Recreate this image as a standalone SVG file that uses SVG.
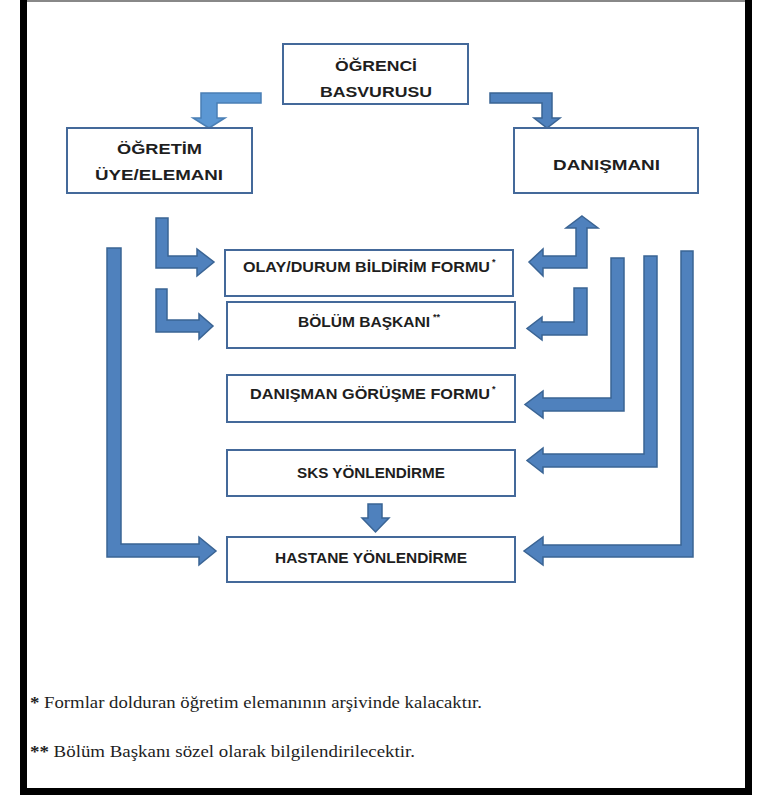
<svg xmlns="http://www.w3.org/2000/svg" width="759" height="796" viewBox="0 0 759 796">
<style>
.box{fill:#ffffff;stroke:#44699a;stroke-width:2}
.lbl{font-family:"Liberation Sans",Arial,sans-serif;font-weight:bold;font-size:15.5px;fill:#1e1e1e;text-anchor:middle}
.sup{font-family:"Liberation Sans",Arial,sans-serif;font-weight:bold;font-size:9px;fill:#1e1e1e}
.arr{fill:#4f81bd;stroke:#3a6494;stroke-width:1.5;stroke-linejoin:miter}
.arrl{fill:#5b97d3;stroke:#4a7fb5;stroke-width:1.5}
.note{font-family:"Liberation Serif","Times New Roman",serif;font-size:16px;fill:#1e1e1e}
</style>
<rect x="0" y="0" width="759" height="796" fill="#ffffff"/>
<rect x="23.5" y="-3" width="725" height="794.5" fill="none" stroke="#000000" stroke-width="7"/>
<line x1="27" y1="1" x2="745" y2="1" stroke="#888888" stroke-width="2"/>

<g id="connectors">
  <polygon class="arrl" points="261,93 261,103 217,103 217,118 225,118 209,128 193,118 201,118 201,93"/>
  <polygon class="arr" points="490,93 552,93 552,118 560,118 547,128 534,118 542,118 542,103 490,103"/>
  <polygon class="arr" points="156,218 168,218 168,256 197,256 197,249 214,262 197,276 197,268 156,268"/>
  <polygon class="arr" points="156,289 167,289 167,320 199,320 199,314 213,326 199,339 199,332 156,332"/>
  <polygon class="arr" points="107,248 121,248 121,544 199,544 199,537 216,551 199,565 199,557 107,557"/>
  <polygon class="arr" points="582,216 598,228 587,228 587,268 543,268 543,276 529,262 543,249 543,256 576,256 576,228 566,228"/>
  <polygon class="arr" points="574,288 587,288 587,335 542,335 542,340 527,328.5 542,317 542,322 574,322"/>
  <polygon class="arr" points="611,258 624,258 624,411 543,411 543,418 525,404.5 543,391 543,398 611,398"/>
  <polygon class="arr" points="644,256 657,256 657,467 543,467 543,473 527,460.5 543,448 543,454 644,454"/>
  <polygon class="arr" points="681,251 693,251 693,557 543,557 543,565 524,551 543,537 543,545 681,545"/>
  <polygon class="arr" points="368,504 382,504 382,518 389,518 375.5,532 362,518 368,518"/>
</g>

<g id="ogrenci">
  <rect class="box" x="283" y="44" width="185" height="60"/>
  <text class="lbl" x="376" y="71" textLength="82" lengthAdjust="spacingAndGlyphs">ÖĞRENCİ</text>
  <text class="lbl" x="376" y="97" textLength="112" lengthAdjust="spacingAndGlyphs">BASVURUSU</text>
</g>
<g id="ogretim">
  <rect class="box" x="67" y="128" width="185" height="65"/>
  <text class="lbl" x="159.5" y="154" textLength="85" lengthAdjust="spacingAndGlyphs">ÖĞRETİM</text>
  <text class="lbl" x="159" y="180" textLength="128" lengthAdjust="spacingAndGlyphs">ÜYE/ELEMANI</text>
</g>
<g id="danismani">
  <rect class="box" x="514" y="128" width="184" height="65"/>
  <text class="lbl" x="606.5" y="170" textLength="107" lengthAdjust="spacingAndGlyphs">DANIŞMANI</text>
</g>
<g id="olay">
  <rect class="box" x="225" y="250" width="288" height="46"/>
  <text class="lbl" x="366.5" y="272" textLength="247" lengthAdjust="spacingAndGlyphs">OLAY/DURUM BİLDİRİM FORMU</text>
  <text class="sup" x="492" y="265">*</text>
</g>
<g id="bolum">
  <rect class="box" x="227" y="302" width="288" height="46"/>
  <text class="lbl" x="364" y="327" textLength="132" lengthAdjust="spacingAndGlyphs">BÖLÜM BAŞKANI</text>
  <text class="sup" x="433" y="320">**</text>
</g>
<g id="gorusme">
  <rect class="box" x="227" y="375" width="288" height="47"/>
  <text class="lbl" x="370" y="399" textLength="240" lengthAdjust="spacingAndGlyphs">DANIŞMAN GÖRÜŞME FORMU</text>
  <text class="sup" x="492" y="392">*</text>
</g>
<g id="sks">
  <rect class="box" x="227" y="450" width="288" height="46"/>
  <text class="lbl" x="371" y="478" textLength="148" lengthAdjust="spacingAndGlyphs">SKS YÖNLENDİRME</text>
</g>
<g id="hastane">
  <rect class="box" x="227" y="537" width="288" height="45"/>
  <text class="lbl" x="371" y="563" textLength="192" lengthAdjust="spacingAndGlyphs">HASTANE YÖNLENDİRME</text>
</g>

<g id="notes">
  <text class="note" x="30" y="708" textLength="452" lengthAdjust="spacingAndGlyphs"><tspan font-weight="bold">*</tspan> Formlar dolduran öğretim elemanının arşivinde kalacaktır.</text>
  <text class="note" x="30" y="757" textLength="385" lengthAdjust="spacingAndGlyphs"><tspan font-weight="bold">**</tspan> Bölüm Başkanı sözel olarak bilgilendirilecektir.</text>
</g>
</svg>
